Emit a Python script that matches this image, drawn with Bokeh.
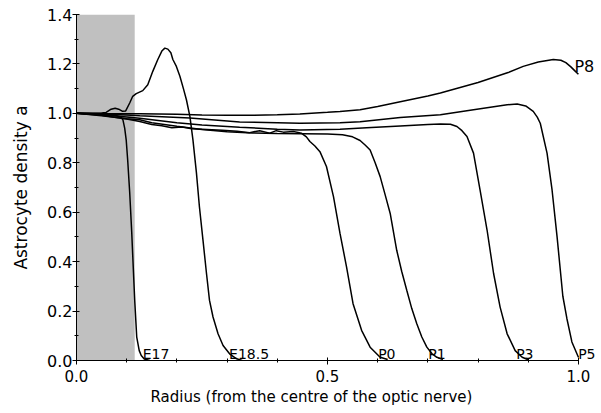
from bokeh.plotting import figure
from bokeh.models import Range1d, FixedTicker, PrintfTickFormatter, Title
from bokeh.core.properties import value
from bokeh.embed import file_html
from bokeh.resources import INLINE

# ---- data ----
E17_x = [0, 0.03, 0.06, 0.08, 0.088, 0.0925, 0.096, 0.099, 0.102, 0.106, 0.110, 0.113, 0.116, 0.120, 0.125, 0.129, 0.135, 0.146]
E17_y = [1.0, 0.998, 0.995, 0.99, 0.985, 0.974, 0.94, 0.893, 0.81, 0.68, 0.52, 0.38, 0.243, 0.095, 0.04, 0.02, 0.006, 0.0]

E185_x = [0, 0.03, 0.05, 0.059, 0.069, 0.077, 0.084, 0.091, 0.098, 0.106, 0.112, 0.119, 0.132, 0.142, 0.152, 0.162, 0.170, 0.176, 0.182, 0.188, 0.192,
          0.199, 0.206, 0.213, 0.219, 0.226, 0.232, 0.239, 0.245, 0.252, 0.259, 0.265, 0.272, 0.282, 0.292, 0.305, 0.319, 0.33]
E185_y = [1.0, 1.0, 1.001, 1.004, 1.017, 1.021, 1.017, 1.009, 1.01, 1.042, 1.069, 1.08, 1.092, 1.116, 1.17, 1.218, 1.252, 1.264, 1.26, 1.245, 1.218,
          1.19, 1.15, 1.10, 1.055, 0.987, 0.893, 0.758, 0.62, 0.487, 0.352, 0.243, 0.176, 0.108, 0.061, 0.027, 0.007, 0.0]

P0_x = [0, 0.05, 0.1, 0.126, 0.15, 0.17, 0.19, 0.21, 0.23, 0.26, 0.29, 0.32, 0.345, 0.365, 0.385, 0.398, 0.412, 0.432, 0.448, 0.458,
        0.465, 0.475, 0.485, 0.498, 0.512, 0.525, 0.538, 0.551, 0.568, 0.585, 0.605, 0.62]
P0_y = [1.0, 0.992, 0.977, 0.967, 0.955, 0.95, 0.942, 0.945, 0.938, 0.935, 0.932, 0.928, 0.922, 0.93, 0.92, 0.93, 0.924, 0.927, 0.92, 0.905,
        0.886, 0.868, 0.845, 0.785, 0.663, 0.514, 0.379, 0.23, 0.122, 0.054, 0.013, 0.004]

P1_x = [0, 0.05, 0.1, 0.126, 0.15, 0.2, 0.25, 0.3, 0.35, 0.4, 0.45, 0.5, 0.53, 0.55, 0.565, 0.575, 0.585, 0.595, 0.605, 0.615, 0.625,
        0.638, 0.648, 0.658, 0.668, 0.678, 0.688, 0.698, 0.708, 0.718, 0.73]
P1_y = [1.0, 0.99, 0.978, 0.974, 0.962, 0.948, 0.935, 0.926, 0.921, 0.918, 0.917, 0.916, 0.913, 0.905, 0.89, 0.872, 0.852, 0.8, 0.744, 0.67, 0.595,
        0.446, 0.36, 0.284, 0.21, 0.149, 0.095, 0.054, 0.028, 0.013, 0.004]

P3_x = [0, 0.05, 0.1, 0.126, 0.2, 0.25, 0.325, 0.4, 0.445, 0.525, 0.578, 0.645, 0.7, 0.725, 0.745, 0.758, 0.768, 0.778, 0.791, 0.804,
        0.818, 0.831, 0.844, 0.858, 0.874, 0.888, 0.9]
P3_y = [1.0, 0.994, 0.985, 0.98, 0.962, 0.953, 0.944, 0.936, 0.933, 0.936, 0.942, 0.949, 0.955, 0.957, 0.956, 0.947, 0.93, 0.906, 0.839, 0.69,
        0.528, 0.352, 0.216, 0.108, 0.04, 0.013, 0.003]

P5_x = [0, 0.05, 0.1, 0.126, 0.226, 0.325, 0.4, 0.445, 0.525, 0.565, 0.645, 0.725, 0.791, 0.858, 0.878, 0.895, 0.91, 0.918, 0.924,
        0.9375, 0.9475, 0.9575, 0.969, 0.977, 0.987, 1.0]
P5_y = [1.0, 0.997, 0.993, 0.99, 0.981, 0.965, 0.962, 0.96, 0.962, 0.966, 0.983, 0.994, 1.015, 1.035, 1.038, 1.03, 1.008, 0.985, 0.96,
        0.839, 0.69, 0.5, 0.26, 0.17, 0.075, 0.013]

P8_x = [0, 0.05, 0.126, 0.2, 0.25, 0.3, 0.35, 0.4, 0.445, 0.5, 0.525, 0.565, 0.6, 0.645, 0.7, 0.725, 0.8, 0.83, 0.86, 0.89, 0.92,
        0.95, 0.965, 0.975, 0.985, 0.993, 1.0]
P8_y = [1.0, 0.999, 0.998, 0.996, 0.993, 0.992, 0.992, 0.994, 0.997, 1.004, 1.008, 1.015, 1.028, 1.047, 1.07, 1.082, 1.125, 1.145, 1.165, 1.19, 1.208,
        1.218, 1.215, 1.205, 1.188, 1.172, 1.158]

labels = ["E17", "E18.5", "P0", "P1", "P3", "P5"]
label_x = [0.132, 0.304, 0.601, 0.701, 0.876, 0.9995]
label_y = [0.026, 0.026, 0.028, 0.028, 0.028, 0.028]
top_label = ["P8"]
top_label_x = [0.992]
top_label_y = [1.188]

shade_end = 0.116
x_ticks = [0.0, 0.5, 1.0]
x_minor = [0.1, 0.2, 0.3, 0.4, 0.6, 0.7, 0.8, 0.9]
y_ticks = [0.0, 0.2, 0.4, 0.6, 0.8, 1.0, 1.2, 1.4]
y_minor = [0.1, 0.3, 0.5, 0.7, 0.9, 1.1, 1.3]

FONT = "DejaVu Sans"

p = figure(width=600, height=412, output_backend="svg", toolbar_location=None,
           x_range=Range1d(0, 1.044), y_range=Range1d(0, 1.4),
           min_border_left=76, min_border_right=0, min_border_top=14, min_border_bottom=52)
p.outline_line_color = None
p.xgrid.visible = False
p.ygrid.visible = False
p.background_fill_color = "white"

# shaded region
p.quad(left=[0], right=[shade_end], bottom=[0], top=[1.4], fill_color="#c0c0c0", line_color=None)

for xs, ys in [(E17_x, E17_y), (E185_x, E185_y), (P0_x, P0_y), (P1_x, P1_y),
               (P3_x, P3_y), (P5_x, P5_y), (P8_x, P8_y)]:
    p.line(xs, ys, line_color="black", line_width=1.5)

p.text(x=label_x, y=label_y, text=labels, text_font=value(FONT), text_font_size="14px",
       text_baseline="alphabetic", text_align="left", text_color="black")
p.text(x=top_label_x, y=top_label_y, text=top_label, text_font=value(FONT), text_font_size="16px",
       text_baseline="alphabetic", text_align="left", text_color="black")

for ax in (p.xaxis[0], p.yaxis[0]):
    ax.axis_line_color = "black"
    ax.major_tick_line_color = "black"
    ax.minor_tick_line_color = "black"
    ax.major_tick_in = 3
    ax.major_tick_out = 4
    ax.minor_tick_in = 2
    ax.minor_tick_out = 2
    ax.major_label_text_font = FONT
    ax.major_label_text_color = "black"
    ax.axis_label_text_font = FONT
    ax.axis_label_text_font_style = "normal"
    ax.axis_label_text_color = "black"
    ax.formatter = PrintfTickFormatter(format="%.1f")

p.xaxis[0].ticker = FixedTicker(ticks=x_ticks, minor_ticks=x_minor)
p.yaxis[0].ticker = FixedTicker(ticks=y_ticks, minor_ticks=y_minor)
p.xaxis[0].bounds = (0, 1)
p.yaxis[0].axis_label = "Astrocyte density a"
p.xaxis[0].major_label_text_font_size = "15px"
p.yaxis[0].major_label_text_font_size = "16px"
p.yaxis[0].axis_label_text_font_size = "17px"
p.xaxis[0].major_label_standoff = 5
p.yaxis[0].major_label_standoff = 0
p.yaxis[0].axis_label_standoff = 13

xtitle = Title(text="Radius (from the centre of the optic nerve)", align="left", offset=74,
               text_font=FONT, text_font_size="15px", text_font_style="normal",
               text_color="black", standoff=2)
p.add_layout(xtitle, "below")

open("out.html", "w").write(file_html(p, INLINE))
